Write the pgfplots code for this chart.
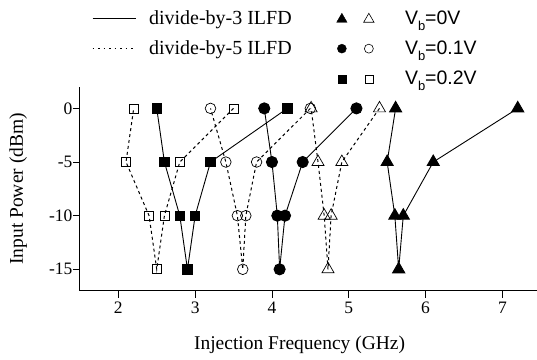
\documentclass[border=0pt]{standalone}
\usepackage{fontspec}
\setmainfont{Liberation Serif}
\setsansfont{Liberation Sans}
\usepackage{pgfplots}
\pgfplotsset{compat=1.18}
\newcommand{\Vb}[1]{{\sffamily\fontsize{19.5}{22}\selectfont V\raisebox{-6pt}{\fontsize{13}{13}\selectfont b}=#1}}
\pgfplotsset{
 legsolid/.style={legend image code/.code={\draw[black, line width=1pt] (0pt,0pt) -- (43pt,0pt);}},
 legdotted/.style={legend image code/.code={\draw[black, line width=0.8pt, dash pattern=on 1.5pt off 4pt] (0pt,0pt) -- (43pt,0pt);}},
 legtri/.style={legend image code/.code={
   \path (-6pt,0pt) (50pt,0pt);
   \path plot[mark=triangle*, mark size=6pt, mark options={fill=black,draw=black}] coordinates {(0pt,-1pt)};
   \path plot[mark=triangle, mark size=6pt, mark options={fill=white,draw=black,line width=0.6pt}] coordinates {(27pt,-1pt)};}},
 legcirc/.style={legend image code/.code={
   \path (-6pt,0pt) (50pt,0pt);
   \path plot[mark=*, mark size=4.5pt, mark options={fill=black,draw=black}] coordinates {(0pt,0pt)};
   \path plot[mark=o, mark size=4.5pt, mark options={fill=white,draw=black,line width=0.6pt}] coordinates {(27pt,0pt)};}},
 legsq/.style={legend image code/.code={
   \path (-6pt,0pt) (50pt,0pt);
   \path plot[mark=square*, mark size=4pt, mark options={fill=black,draw=black}] coordinates {(0pt,0pt)};
   \path plot[mark=square, mark size=4pt, mark options={fill=white,draw=black,line width=0.6pt}] coordinates {(27pt,0pt)};}},
}
\begin{document}
\begin{tikzpicture}
\begin{axis}[name=ax,
 scale only axis, width=457pt, height=204pt,
 xmin=1.5, xmax=7.445, ymin=-17, ymax=2,
 axis lines=left, axis line style={-, line width=0.9pt},
 xtick={2,3,4,5,6,7}, xticklabels={2,3,4,5,6,7},
 ytick={-15,-10,-5,0}, yticklabels={-15,-10,-5,0},
 tick align=outside, major tick length=7pt, tick style={line width=0.9pt, black},
 ticklabel style={font=\fontsize{17.5}{20}\selectfont},
 xticklabel style={yshift=-1pt},
 yticklabel style={xshift=3pt},
 xlabel={Injection Frequency (GHz)}, ylabel={Input Power (dBm)},
 label style={font=\fontsize{19.5}{23}\selectfont},
 xlabel style={at={(axis description cs:0.481,-0.289)}, anchor=base},
 ylabel style={at={(axis description cs:-0.1247,0.5)}, anchor=base},
 clip=false,
 legend columns=2,
 legend cell align=left,
 legend style={draw=none, fill=none, at={(axis description cs:0.0197,1.395)}, anchor=north west,
   font=\fontsize{20}{23}\selectfont,
   /tikz/every odd column/.append style={column sep=11pt},
   /tikz/every even column/.append style={column sep=42pt},
   row sep=11pt},
]
% Vb = 0.2 V
\addplot[black, line width=1pt, dash pattern=on 3pt off 3pt, mark=square, mark size=4.5pt, mark options={solid, fill=white, line width=0.7pt}, forget plot]
 coordinates {(3.5,0) (2.8,-5) (2.6,-10) (2.5,-15) (2.4,-10) (2.1,-5) (2.2,0)};
\addplot[black, line width=0.9pt, mark=square*, mark size=4.7pt, mark options={solid, fill=black}, forget plot]
 coordinates {(4.2,0) (3.2,-5) (3.0,-10) (2.9,-15) (2.8,-10) (2.6,-5) (2.5,0)};
% Vb = 0 V
\addplot[black, line width=1pt, dash pattern=on 3pt off 3pt, mark=triangle, mark size=7pt, mark options={solid, fill=white, line width=0.7pt}, forget plot]
 coordinates {(5.4,0) (4.91,-5) (4.77,-10) (4.73,-15) (4.68,-10) (4.6,-5) (4.51,0)};
\addplot[black, line width=0.9pt, mark=triangle*, mark size=7pt, mark options={solid, fill=black}, forget plot]
 coordinates {(7.2,0) (6.1,-5) (5.71,-10) (5.65,-15) (5.6,-10) (5.5,-5) (5.61,0)};
% Vb = 0.1 V
\addplot[black, line width=1pt, dash pattern=on 3pt off 3pt, mark=o, mark size=5.3pt, mark options={solid, fill=white, line width=0.7pt}, forget plot]
 coordinates {(4.5,0) (3.8,-5) (3.66,-10) (3.62,-15) (3.55,-10) (3.4,-5) (3.2,0)};
\addplot[black, line width=0.9pt, mark=*, mark size=5.6pt, mark options={solid, fill=black}, forget plot]
 coordinates {(5.1,0) (4.4,-5) (4.17,-10) (4.1,-15) (4.07,-10) (4.0,-5) (3.9,0)};
% legend
\addlegendimage{legsolid}
\addlegendentry{divide-by-3 ILFD}
\addlegendimage{legtri}
\addlegendentry{\Vb{0V}}
\addlegendimage{legdotted}
\addlegendentry{divide-by-5 ILFD}
\addlegendimage{legcirc}
\addlegendentry{\Vb{0.1V}}
\addlegendimage{empty legend}
\addlegendentry{}
\addlegendimage{legsq}
\addlegendentry{\Vb{0.2V}}
\end{axis}
\path[use as bounding box] ([shift={(-80pt,-69pt)}]ax.south west) rectangle ([shift={(457pt,291pt)}]ax.south west);
\end{tikzpicture}
\end{document}
